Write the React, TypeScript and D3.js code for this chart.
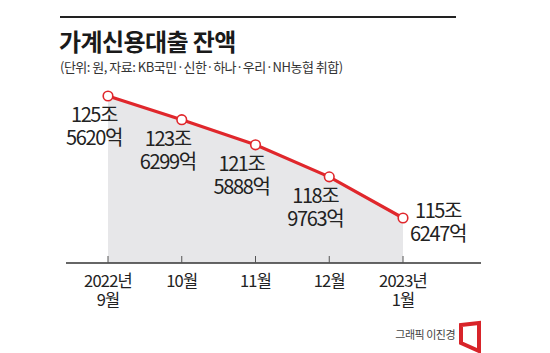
import React from "react";
import * as d3 from "d3";

const months = ["2022-09", "2022-10", "2022-11", "2022-12", "2023-01"];
const tickLines1 = ["2022년", "10월", "11월", "12월", "2023년"];
const tickLines2 = ["9월", "", "", "", "1월"];
const values = [125.562, 123.6299, 121.5888, 118.9763, 115.6247];
const labelJo = ["125조", "123조", "121조", "118조", "115조"];
const labelEok = ["5620억", "6299억", "5888억", "9763억", "6247억"];

const W = 550;
const H = 353;
const FONT = "'Noto Sans CJK KR', 'Noto Sans', sans-serif";

export default function App() {
  const x = d3.scalePoint<string>().domain(months).range([108, 403]);
  const y = d3.scaleLinear().domain([115.6247, 125.562]).range([218, 96]);
  const baseY = 263;

  const pts = values.map((v, i) => [x(months[i]) as number, y(v)] as [number, number]);
  const line = d3.line<[number, number]>().x((d) => d[0]).y((d) => d[1]);
  const area = d3
    .area<[number, number]>()
    .x((d) => d[0])
    .y0(baseY)
    .y1((d) => d[1]);

  return (
    <svg
      width={W}
      height={H}
      style={{ position: "absolute", left: 0, top: 0, background: "#fff" }}
      fontFamily={FONT}
    >
      <rect width={W} height={H} fill="#fff" />
      <line x1={60} x2={456} y1={17} y2={17} stroke="#222" strokeWidth={2} />
      <text x={59} y={51} fontSize={24} fontWeight={700} fill="#1a1a1a" letterSpacing={-0.6}>
        가계신용대출 잔액
      </text>
      <text x={60} y={72} fontSize={13} fill="#333" letterSpacing={-0.5}>
        (단위: 원, 자료: KB국민·신한·하나·우리·NH농협 취합)
      </text>

      <path d={area(pts) || ""} fill="#e7e7e9" />
      <line x1={66} x2={481} y1={baseY} y2={baseY} stroke="#333" strokeWidth={1.5} />
      {months.map((m) => (
        <line key={m} x1={x(m)} x2={x(m)} y1={baseY} y2={baseY - 7} stroke="#555" strokeWidth={1} />
      ))}
      {months.map((m, i) => (
        <text key={"t" + m} fill="#222" fontSize={16.5} textAnchor="middle" letterSpacing={-0.8} x={x(m)} y={287}>
          <tspan x={x(m)}>{tickLines1[i]}</tspan>
          {tickLines2[i] && (
            <tspan x={x(m)} dy={19}>
              {tickLines2[i]}
            </tspan>
          )}
        </text>
      ))}

      <path d={line(pts) || ""} fill="none" stroke="#e0272c" strokeWidth={3.2} />
      {pts.map((p, i) => (
        <circle key={i} cx={p[0]} cy={p[1]} r={4.8} fill="#fff" stroke="#e0272c" strokeWidth={1.6} />
      ))}

      {pts.map((p, i) => {
        const last = i === pts.length - 1;
        const cx = last ? p[0] + 35 : p[0] - 14;
        const y1 = last ? p[1] + 0 : p[1] + 26;
        return (
          <text key={"l" + i} fill="#222" fontSize={20} textAnchor="middle" letterSpacing={-1.4} x={cx} y={y1}>
            <tspan x={cx}>{labelJo[i]}</tspan>
            <tspan x={cx} dy={23}>
              {labelEok[i]}
            </tspan>
          </text>
        );
      })}

      <text x={455} y={339} fontSize={11} fill="#444" textAnchor="end" letterSpacing={-0.5}>
        그래픽 이진경
      </text>
      <path d="M461,325 L479,323 L479,351 L461,343 Z" fill="none" stroke="#d8242a" strokeWidth={4} strokeLinejoin="miter" />
    </svg>
  );
}
